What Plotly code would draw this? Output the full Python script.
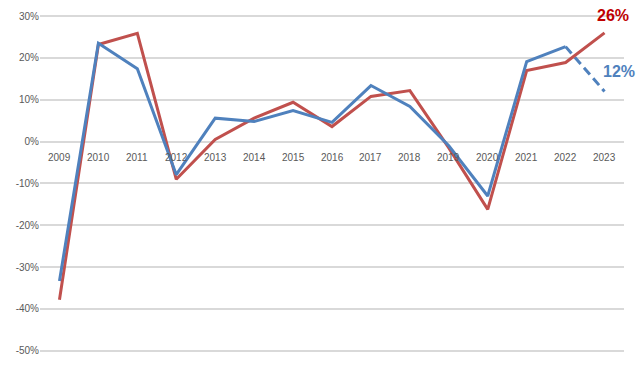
import plotly.graph_objects as go

years = ["2009", "2010", "2011", "2012", "2013", "2014", "2015", "2016",
         "2017", "2018", "2019", "2020", "2021", "2022", "2023"]
red_vals = [-37.8, 23.2, 25.9, -9.0, 0.5, 5.6, 9.4, 3.6, 10.8, 12.2, -1.5, -16.2, 17.0, 18.9, 26.0]
blue_vals = [-33.3, 23.5, 17.4, -7.9, 5.6, 4.8, 7.4, 4.6, 13.4, 8.4, -1.0, -13.0, 19.1, 22.7]
blue_forecast_years = ["2022", "2023"]
blue_forecast_vals = [22.7, 12.0]
y_ticks = [30, 20, 10, 0, -10, -20, -30, -40, -50]
y_ticktext = ["30%", "20%", "10%", "0%", "-10%", "-20%", "-30%", "-40%", "-50%"]

RED = "#C0504D"
BLUE = "#4F81BD"
FONT = "Liberation Sans"

fig = go.Figure()
fig.add_trace(go.Scatter(x=blue_forecast_years, y=blue_forecast_vals, mode="lines",
                         line=dict(color=BLUE, width=3, dash="9px,5px"), showlegend=False))
fig.add_trace(go.Scatter(x=years, y=red_vals, mode="lines",
                         line=dict(color=RED, width=3), showlegend=False))
fig.add_trace(go.Scatter(x=years[:len(blue_vals)], y=blue_vals, mode="lines",
                         line=dict(color=BLUE, width=3), showlegend=False))

for i, yr in enumerate(years):
    fig.add_annotation(x=i, y=0, xref="x", yref="y", text=yr, showarrow=False,
                       yshift=-16, font=dict(family=FONT, size=10, color="#595959"))
fig.add_annotation(x=len(years) - 1, y=red_vals[-1], xref="x", yref="y", text="<b>26%</b>",
                   showarrow=False, xshift=8, yshift=17,
                   font=dict(family=FONT, size=16, color="#C00000"))
fig.add_annotation(x=len(years) - 1, y=blue_forecast_vals[-1], xref="x", yref="y", text="<b>12%</b>",
                   showarrow=False, xshift=14, yshift=20,
                   font=dict(family=FONT, size=16, color=BLUE))

fig.update_layout(
    width=638, height=367,
    margin=dict(l=40, r=14, t=14, b=12, autoexpand=False),
    paper_bgcolor="white", plot_bgcolor="white",
    xaxis=dict(type="category", categoryorder="array", categoryarray=years,
               range=[-0.5, 14.5], showticklabels=False,
               showgrid=False, zeroline=False, showline=False),
    yaxis=dict(range=[-51, 30.5], tickvals=y_ticks, ticktext=y_ticktext,
               showgrid=True, gridcolor="#D9D9D9", gridwidth=1.5,
               zeroline=False, showline=False, ticks="",
               tickfont=dict(family=FONT, size=10, color="#595959")),
)

fig.write_html("out.html", config={"displayModeBar": False},
               post_script="document.body.style.margin='0';")
